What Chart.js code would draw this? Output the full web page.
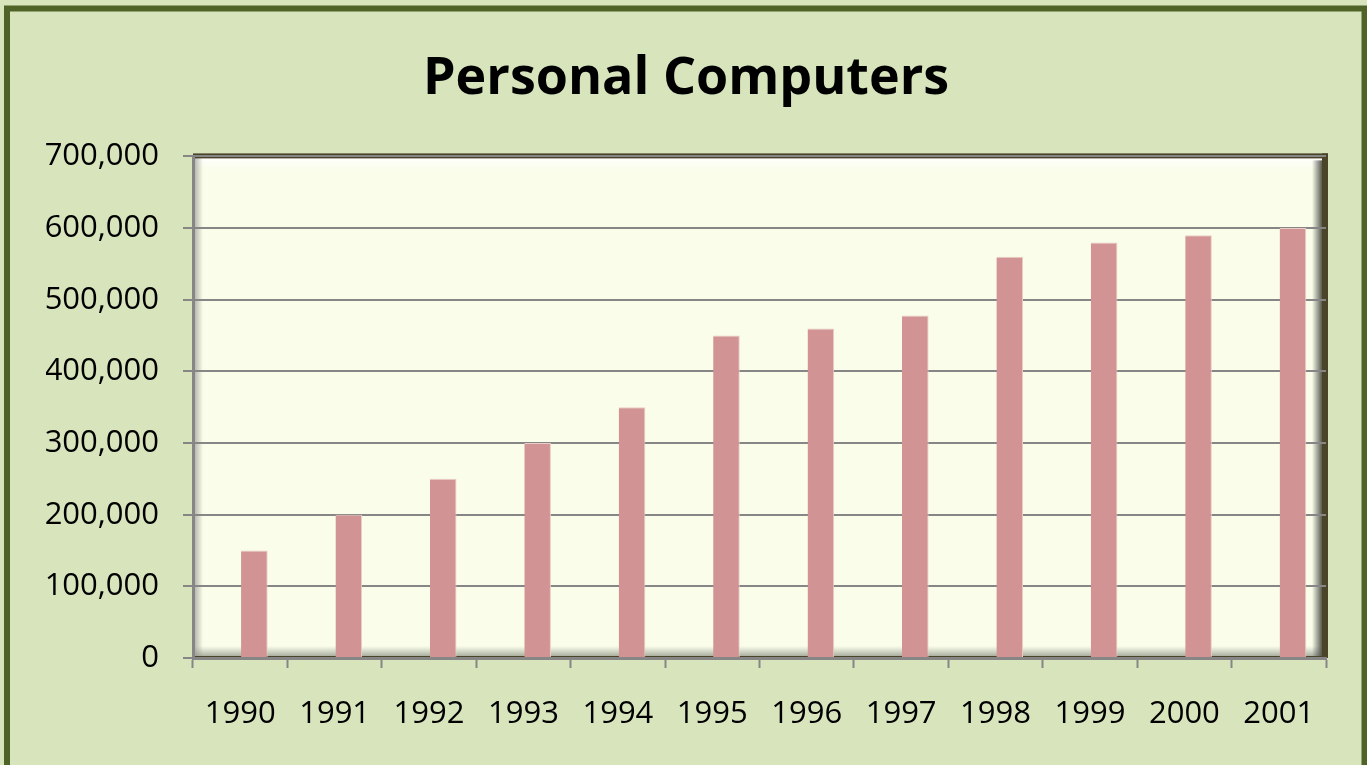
<!DOCTYPE html>
<html>
<head>
<meta charset="utf-8">
<script src="https://cdn.jsdelivr.net/npm/chart.js@4/dist/chart.umd.min.js"></script>
<style>
  html, body { margin: 0; padding: 0; background: #d8e4bc; }
  canvas { display: block; }
</style>
</head>
<body>
<canvas id="pc-chart" width="1367" height="765"></canvas>
<script>
// Chart values
const years = ['1990', '1991', '1992', '1993', '1994', '1995', '1996', '1997', '1998', '1999', '2000', '2001']
const computers = [150000, 200000, 250000, 300000, 350000, 450000, 460000, 478000, 560000, 580000, 590000, 600000]
const yTicks = [0, 100000, 200000, 300000, 400000, 500000, 600000, 700000]

const FONT = '"Open Sans", "Liberation Sans", sans-serif'
const GRID = '#868686'

// Outer panel + the bevelled plot frame (Excel style)
const framePlugin = {
  id: 'frame',
  beforeDraw(chart) {
    const { ctx, chartArea: a, width, height } = chart
    ctx.save()
    ctx.fillStyle = '#d8e4bc'
    ctx.fillRect(0, 0, width, height)

    // outer border, open at the bottom
    ctx.strokeStyle = '#4f6228'
    ctx.lineWidth = 6
    ctx.strokeRect(7, 8.5, 1357.5, height + 20)

    // plot background
    ctx.fillStyle = '#f9fdea'
    ctx.fillRect(a.left, a.top, a.right - a.left, a.bottom - a.top)

    // top highlight
    let g = ctx.createLinearGradient(0, a.top, 0, a.top + 14)
    g.addColorStop(0, '#ffffff')
    g.addColorStop(1, 'rgba(255,255,255,0)')
    ctx.fillStyle = g
    ctx.fillRect(a.left, a.top, a.right - a.left, 14)

    // bottom shade
    g = ctx.createLinearGradient(0, a.bottom - 12, 0, a.bottom)
    g.addColorStop(0, 'rgba(160,165,150,0)')
    g.addColorStop(1, 'rgba(140,145,130,0.9)')
    ctx.fillStyle = g
    ctx.fillRect(a.left, a.bottom - 12, a.right - a.left, 12)

    // left inner shade
    g = ctx.createLinearGradient(a.left, 0, a.left + 10, 0)
    g.addColorStop(0, 'rgba(150,150,140,0.8)')
    g.addColorStop(1, 'rgba(150,150,140,0)')
    ctx.fillStyle = g
    ctx.fillRect(a.left, a.top, 10, a.bottom - a.top)

    // right inner shade
    g = ctx.createLinearGradient(a.right - 14, 0, a.right - 4, 0)
    g.addColorStop(0, 'rgba(80,82,75,0)')
    g.addColorStop(1, 'rgba(80,82,75,0.95)')
    ctx.fillStyle = g
    ctx.fillRect(a.right - 14, a.top + 4, 10, a.bottom - a.top - 4)

    // dark frame top + right
    ctx.fillStyle = '#4a4428'
    ctx.fillRect(a.left, a.top - 3, a.right - a.left + 2, 5)
    ctx.fillRect(a.right - 4, a.top - 3, 6, a.bottom - a.top + 3)
    ctx.fillRect(a.left, a.bottom - 2, a.right - a.left, 2)
    ctx.restore()
  }
}

const config = {
  type: 'bar',
  data: {
    labels: years,
    datasets: [
      {
        // empty slot: pushes the real bars right of the category centre, as in the original
        label: '',
        data: years.map(() => null),
        backgroundColor: 'rgba(0,0,0,0)'
      },
      {
        label: 'Personal Computers',
        data: computers,
        backgroundColor: '#d19393',
        borderColor: '#eccdc5',
        borderWidth: { top: 1, right: 1, left: 0, bottom: 0 }
      }
    ]
  },
  options: {
    responsive: false,
    animation: false,
    datasets: { bar: { categoryPercentage: 0.6, barPercentage: 0.94 } },
    layout: { padding: { left: 46, right: 41, top: 0, bottom: 0 } },
    scales: {
      x: {
        offset: true,
        grid: {
          drawOnChartArea: false,
          drawTicks: true,
          tickLength: 10,
          tickColor: GRID,
          tickWidth: 2,
          offset: true
        },
        border: { display: true, color: GRID, width: 3 },
        ticks: {
          color: '#000',
          padding: 28,
          maxRotation: 0,
          font: { family: FONT, size: 31 }
        },
        afterFit: (scale) => { scale.height = 107 }
      },
      y: {
        min: 0,
        max: 700000,
        afterBuildTicks: (scale) => { scale.ticks = yTicks.map(v => ({ value: v })) },
        grid: {
          color: GRID,
          lineWidth: 2,
          drawTicks: true,
          tickLength: 10,
          tickColor: GRID,
          tickWidth: 2
        },
        border: { display: true, color: GRID, width: 3 },
        ticks: {
          color: '#000',
          padding: 24,
          font: { family: FONT, size: 31 },
          callback: (value) => Number(value).toLocaleString('en-US')
        },
        afterFit: (scale) => { scale.width = 147 }
      }
    },
    plugins: {
      legend: { display: false },
      tooltip: { enabled: false },
      title: {
        display: true,
        text: 'Personal Computers',
        color: '#000',
        font: { family: FONT, size: 52, weight: 'bold', lineHeight: 1.2 },
        padding: { top: 48, bottom: 46 }
      }
    }
  },
  plugins: [framePlugin]
}

new Chart(document.getElementById('pc-chart'), config)
</script>
</body>
</html>
